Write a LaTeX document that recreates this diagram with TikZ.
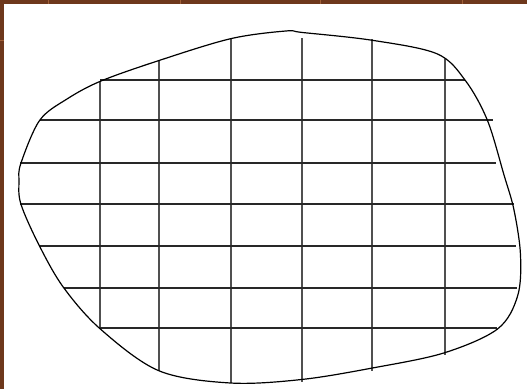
\documentclass[tikz,border=0pt]{standalone}
\definecolor{brownbg}{RGB}{110,56,28}
\definecolor{brownlt}{RGB}{160,96,56}
\definecolor{gridv}{RGB}{80,80,80}
\definecolor{gridh}{RGB}{40,40,40}
\tikzset{
  outline/.style={draw=black, line width=1.2pt},
  hline/.style={draw=gridh, line width=2pt},
  vline/.style={draw=gridv, line width=2pt},
  mortar/.style={draw=brownlt, line width=1pt},
}
\begin{document}
\begin{tikzpicture}[x=1pt,y=-1pt]
\useasboundingbox (0,0) rectangle (527,389);
\fill[brownbg] (0,0) rectangle (527,389);
\fill[white] (4,4) rectangle (527,389);
% mortar marks
\foreach \mx in {48.5,180.5,320.5,462.5}
  \draw[mortar] (\mx,0) -- (\mx,4);
\draw[mortar] (0,40.5) -- (4,40.5);
% grid: vertical lines
\draw[vline] (100,81) -- (100,328);
\draw[vline] (159,61) -- (159,371);
\draw[vline] (231,39) -- (231,383);
\draw[vline] (302,38) -- (302,382);
\draw[vline] (372,39) -- (372,371);
\draw[vline] (445,59) -- (445,355);
% grid: horizontal lines
\draw[hline] (100,80) -- (465,80);
\draw[hline] (40,120) -- (493,120);
\draw[hline] (20,163) -- (496,163);
\draw[hline] (20,204) -- (514,204);
\draw[hline] (40,246) -- (516,246);
\draw[hline] (64,288) -- (517,288);
\draw[hline] (100,328) -- (497,328);
% outline blob
\draw[outline] plot[smooth cycle, tension=0.55] coordinates {
  (101,81) (159,60.5) (230.6,38.7) (285.7,31) (302.5,32.5) (372.4,40.3)
  (437,53.8) (465.5,80.7) (487.4,120.3) (504,175) (514,210) (520.5,255)
  (517.6,296) (497.5,329) (443.7,353) (372.4,368) (301.5,379.5) (230.6,383)
  (159,370.8) (100.8,329.4) (63.9,288) (39.7,246.4) (21,204.4) (19,181)
  (21,163) (39.7,120.3) (67,99)
};
\end{tikzpicture}
\end{document}
